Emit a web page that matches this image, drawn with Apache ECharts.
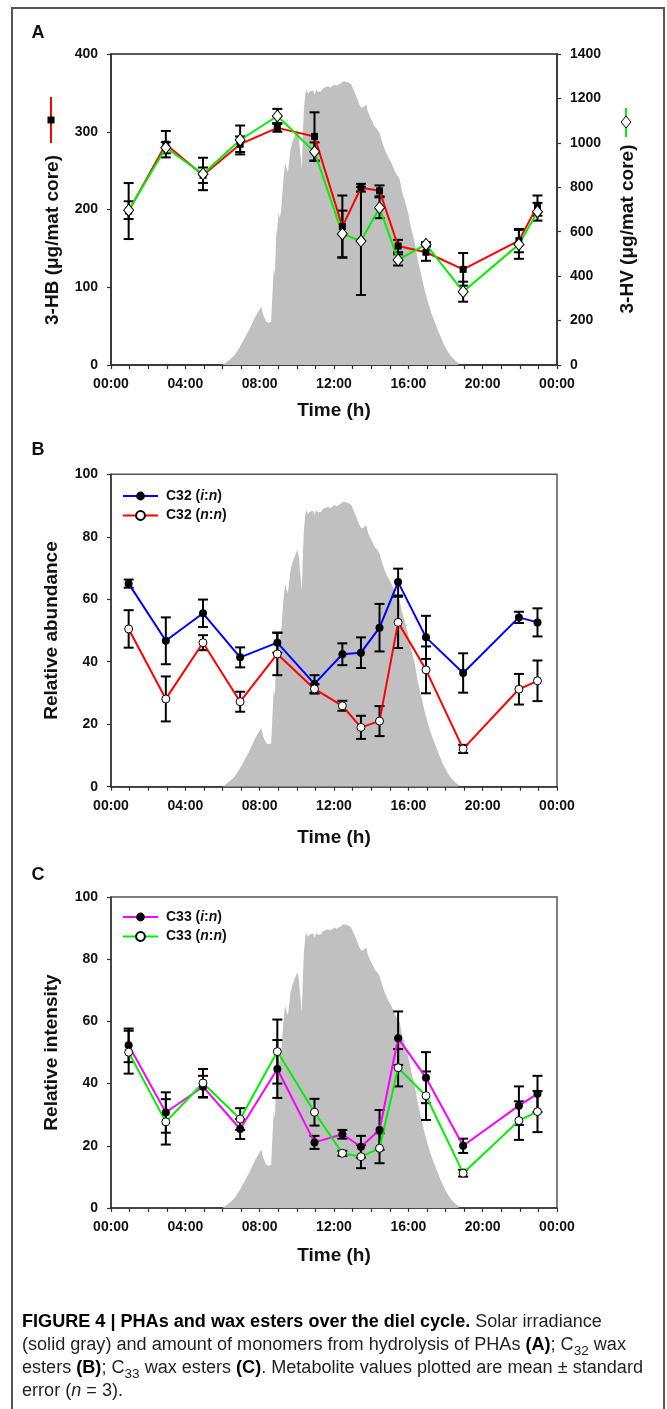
<!DOCTYPE html>
<html>
<head>
<meta charset="utf-8">
<script src="https://cdn.jsdelivr.net/npm/echarts@6/dist/echarts.min.js"></script>
<style>
  html, body { margin: 0; padding: 0; background: #fff; }
  #wrap { position: relative; width: 667px; height: 1409px; overflow: hidden; }
  #frame { position: absolute; left: 11px; top: 7px; width: 654px; height: 1440px; border: 2px solid #555; box-sizing: border-box; }
  #chart { position: absolute; left: 0; top: 0; width: 667px; height: 1409px; }
  #cap { position: absolute; left: 22px; top: 1310px; font-family: "Liberation Sans", Arial, sans-serif; font-size: 18px; line-height: 23px; color: #231f20; white-space: nowrap; }
  #cap .ln { display: block; transform-origin: 0 50%; width: max-content; }
  #cap b { color: #000; }
  #cap sub { font-size: 0.75em; vertical-align: -0.35em; line-height: 0; }
</style>
</head>
<body>
<div id="wrap">
  <div id="chart"></div>
  <div id="frame"></div>
  <div id="cap"><span class="ln"><b>FIGURE 4 | PHAs and wax esters over the diel cycle.</b> Solar irradiance</span><span class="ln">(solid gray) and amount of monomers from hydrolysis of PHAs <b>(A)</b>; C<sub>32</sub> wax</span><span class="ln">esters <b>(B)</b>; C<sub>33</sub> wax esters <b>(C)</b>. Metabolite values plotted are mean ± standard</span><span class="ln">error (<i>n</i> = 3).</span></div>
</div>
<script>
// ---------------- DATA ----------------
const xTickLabels = ['00:00', '04:00', '08:00', '12:00', '16:00', '20:00', '00:00'];
const sampleHours = [0.95, 2.95, 4.95, 6.95, 8.95, 10.95, 12.45, 13.45, 14.45, 15.45, 16.95, 18.95, 21.95, 22.95];

// Panel A: 3-HB (left axis) and 3-HV (right axis), µg/mat core
const hb      = [198, 284, 244, 284, 305, 294, 178, 228, 224, 153, 145, 123, 160, 205];
const hbErr   = [36, 17, 10, 10, 5, 31, 40, 5, 7, 8, 11, 21, 15, 13];
const hv      = [697, 978, 860, 1013, 1121, 960, 590, 558, 708, 473, 543, 330, 543, 690];
const hvErr   = [40, 25, 73, 65, 32, 42, 105, 243, 47, 25, 10, 45, 65, 40];

// Panel B: C32 wax esters, relative abundance
const c32in    = [65.0, 46.7, 55.5, 41.4, 46.1, 32.9, 42.4, 42.9, 50.9, 65.5, 47.8, 36.4, 54.2, 52.6];
const c32inErr = [1.3, 7.5, 4.4, 3.2, 3.2, 2.8, 3.5, 4.9, 7.6, 4.3, 6.9, 6.3, 1.8, 4.5];
const c32nn    = [50.5, 28.1, 46.1, 27.2, 42.5, 31.3, 25.9, 19.0, 21.0, 52.6, 37.4, 12.1, 31.2, 33.9];
const c32nnErr = [6.0, 7.2, 2.4, 3.2, 6.8, 1.5, 1.6, 3.7, 4.8, 8.2, 7.5, 1.3, 4.9, 6.5];

// Panel C: C33 wax esters, relative intensity
const c33in    = [52.3, 30.7, 39.0, 25.4, 44.7, 21.1, 23.7, 19.7, 25.1, 54.6, 41.9, 20.0, 32.9, 36.7];
const c33inErr = [5.4, 6.5, 3.5, 3.2, 9.3, 2.1, 1.4, 3.5, 6.4, 8.6, 8.2, 2.3, 6.2, 5.8];
const c33nn    = [50.1, 27.7, 40.2, 28.6, 50.3, 30.8, 17.6, 16.5, 19.2, 45.1, 36.1, 11.2, 28.1, 31.0];
const c33nnErr = [6.9, 7.3, 4.5, 3.5, 10.3, 4.3, 0.8, 3.7, 4.8, 6.0, 7.8, 1.1, 6.2, 6.6];

// Solar irradiance (relative, % of panel height)
const irrHours = [6.0, 6.11, 6.4, 6.65, 6.9, 7.18, 7.45, 7.72, 7.9, 8.08, 8.2, 8.35, 8.5, 8.62, 8.68, 8.76, 8.82, 8.89, 8.95, 9.01, 9.08, 9.16, 9.22, 9.28, 9.37, 9.45, 9.52, 9.6, 9.66, 9.78, 9.88, 10.02, 10.1, 10.15, 10.22, 10.27, 10.33, 10.38, 10.45, 10.51, 10.6, 10.7, 10.78, 10.88, 10.95, 11.05, 11.15, 11.31, 11.4, 11.5, 11.67, 11.8, 12.03, 12.15, 12.39, 12.5, 12.6, 12.75, 12.85, 12.93, 13.05, 13.2, 13.35, 13.47, 13.6, 13.74, 13.82, 13.92, 14.05, 14.18, 14.3, 14.45, 14.55, 14.72, 14.9, 15.08, 15.3, 15.53, 15.65, 15.8, 15.98, 16.15, 16.34, 16.5, 16.7, 16.88, 17.05, 17.25, 17.42, 17.6, 17.78, 17.95, 18.13, 18.3, 18.49, 18.65, 18.76, 18.85];
const irrValues = [0, 0.5, 1.8, 3.2, 5.5, 8.5, 11.5, 15, 17, 18.7, 16, 13.9, 13.6, 13.9, 22, 31, 29, 41.6, 44, 49, 47, 50, 55, 59.8, 65.1, 63, 62, 66, 69.4, 72, 73.6, 75.8, 74, 70.4, 66, 63, 75, 82, 87, 88.6, 87.2, 88, 87.5, 88.3, 87, 88.5, 87.8, 88, 89, 88.4, 89.6, 89.2, 90.2, 89.8, 90.7, 91.2, 90.6, 90.9, 91, 90.2, 88.5, 86.4, 84, 82.7, 83, 83.8, 81.5, 80, 78.5, 76.8, 76, 74.7, 72.5, 69.4, 67, 65.1, 62, 59.8, 56, 53, 49.1, 44, 39.5, 34, 28.8, 24, 20.3, 16.5, 13.9, 11, 8.5, 6.2, 4.3, 2.8, 1.6, 0.8, 0.3, 0];

// ---------------- CHART ----------------
const FONT = '"Liberation Sans", Arial, Helvetica, sans-serif';
const chart = echarts.init(document.getElementById('chart'), null, { renderer: 'canvas' });

const pairs = (xs, ys) => xs.map((x, i) => [x, ys[i]]);
const errData = (xs, ys, es) => xs.map((x, i) => [x, ys[i] - es[i], ys[i] + es[i]]);
const irrData = pairs(irrHours, irrValues);

function errRender(params, api) {
  const x = api.value(0), lo = api.value(1), hi = api.value(2);
  const a = api.coord([x, lo]), b = api.coord([x, hi]);
  const hw = 5;
  const style = { stroke: '#000', lineWidth: 2 };
  return { type: 'group', children: [
    { type: 'line', shape: { x1: a[0], y1: a[1], x2: b[0], y2: b[1] }, style },
    { type: 'line', shape: { x1: a[0] - hw, y1: a[1], x2: a[0] + hw, y2: a[1] }, style },
    { type: 'line', shape: { x1: b[0] - hw, y1: b[1], x2: b[0] + hw, y2: b[1] }, style }
  ]};
}

const gridDefs = [
  { left: 111, top: 54, width: 446, height: 311, borderColor: '#222', nameGap: 36 },
  { left: 111, top: 474.3, width: 446, height: 312.4, borderColor: '#555', nameGap: 42 },
  { left: 111, top: 897, width: 446, height: 311, borderColor: '#555', nameGap: 38 }
];
const grid = gridDefs.map(g => ({ left: g.left, top: g.top, width: g.width, height: g.height, show: true, borderColor: g.borderColor, borderWidth: 1.5, backgroundColor: 'transparent' }));

const axisLabelStyle = { fontFamily: FONT, fontWeight: 'bold', fontSize: 14, color: '#111' };
const nameStyle = { fontFamily: FONT, fontWeight: 'bold', fontSize: 19, color: '#111' };
const axisLine = { show: true, lineStyle: { color: '#333', width: 1.5 } };

const xAxis = [0, 1, 2].map(i => ({
  type: 'value', gridIndex: i, min: 0, max: 24, interval: 4,
  axisLine, splitLine: { show: false },
  axisTick: { show: true, length: 4, lineStyle: { color: '#333', width: 1.2 } },
  minorTick: { show: true, splitNumber: 4, length: 4, lineStyle: { color: '#333', width: 1.2 } },
  axisLabel: Object.assign({ margin: 12, formatter: v => xTickLabels[Math.round(v / 4)] }, axisLabelStyle),
  name: 'Time (h)', nameLocation: 'middle', nameGap: gridDefs[i].nameGap, nameTextStyle: nameStyle
}));

const yCommon = {
  type: 'value', axisLine, splitLine: { show: false },
  axisTick: { show: true, length: 4, lineStyle: { color: '#333', width: 1.2 } },
  axisLabel: Object.assign({ margin: 13, formatter: v => String(v) }, axisLabelStyle)
};
const yAxis = [
  Object.assign({}, yCommon, { gridIndex: 0, position: 'left', min: 0, max: 400, interval: 100 }),
  Object.assign({}, yCommon, { gridIndex: 0, position: 'right', min: 0, max: 1400, interval: 200 }),
  { type: 'value', gridIndex: 0, min: 0, max: 100, show: false },
  Object.assign({}, yCommon, { gridIndex: 1, position: 'left', min: 0, max: 100, interval: 20, name: 'Relative abundance', nameLocation: 'middle', nameGap: 50, nameTextStyle: nameStyle }),
  Object.assign({}, yCommon, { gridIndex: 2, position: 'left', min: 0, max: 100, interval: 20, name: 'Relative intensity', nameLocation: 'middle', nameGap: 50, nameTextStyle: nameStyle })
];

function irrSeries(xi, yi) {
  return { type: 'line', xAxisIndex: xi, yAxisIndex: yi, data: irrData, symbol: 'none', silent: true, z: 1,
    lineStyle: { width: 0, color: '#c0c0c0' }, areaStyle: { color: '#c0c0c0', opacity: 1 }, itemStyle: { color: '#c0c0c0' } };
}
function errSeries(xi, yi, ys, es) {
  return { type: 'custom', xAxisIndex: xi, yAxisIndex: yi, data: errData(sampleHours, ys, es), renderItem: errRender, z: 2, silent: true,
    encode: { x: 0, y: [1, 2] } };
}
function lineSeries(name, xi, yi, ys, color, symbol, size, filled) {
  return { name, type: 'line', xAxisIndex: xi, yAxisIndex: yi, data: pairs(sampleHours, ys), z: 3,
    symbol, symbolSize: size, showSymbol: true,
    lineStyle: { color, width: 2 },
    itemStyle: filled ? { color: '#000', borderColor: '#000', borderWidth: 0 } : { color: '#fff', borderColor: '#000', borderWidth: 1 } };
}

const GREEN = '#00f000';
const series = [
  irrSeries(0, 2), irrSeries(1, 3), irrSeries(2, 4),
  errSeries(0, 0, hb, hbErr), errSeries(0, 1, hv, hvErr),
  lineSeries('3-HB', 0, 0, hb, '#ff0000', 'rect', 7, true),
  lineSeries('3-HV', 0, 1, hv, GREEN, 'diamond', [10, 12], false),
  errSeries(1, 3, c32in, c32inErr), errSeries(1, 3, c32nn, c32nnErr),
  lineSeries('C32 (i:n)', 1, 3, c32in, '#0000ff', 'circle', 8, true),
  lineSeries('C32 (n:n)', 1, 3, c32nn, '#ff0000', 'circle', 8, false),
  errSeries(2, 4, c33in, c33inErr), errSeries(2, 4, c33nn, c33nnErr),
  lineSeries('C33 (i:n)', 2, 4, c33in, '#ff00ff', 'circle', 8, true),
  lineSeries('C33 (n:n)', 2, 4, c33nn, GREEN, 'circle', 8, false)
];

const legendRich = {
  b: { fontFamily: FONT, fontWeight: 'bold', fontSize: 14, color: '#111' },
  bi: { fontFamily: FONT, fontWeight: 'bold', fontStyle: 'italic', fontSize: 14, color: '#111' }
};
const legendFmt = name => {
  const m = name.match(/^(C\d+) \((\w):(\w)\)$/);
  return '{b|' + m[1] + ' (}{bi|' + m[2] + '}{b|:}{bi|' + m[3] + '}{b|)}';
};
function legendAt(top, names) {
  return { data: names, orient: 'vertical', left: 122, top, padding: 0, itemWidth: 35, itemHeight: 11, itemGap: 5.5,
    formatter: legendFmt, textStyle: { rich: legendRich, padding: [0, 0, 0, 3] }, selectedMode: false };
}

const txt = (x, y, text, size, rot) => ({ type: 'text', x, y, rotation: rot || 0, silent: true,
  style: { text, fontFamily: FONT, fontWeight: 'bold', fontSize: size, fill: '#111', align: 'center', verticalAlign: 'middle' } });

const graphic = [
  txt(38, 33, 'A', 18), txt(38, 450, 'B', 18), txt(38, 875, 'C', 18),
  txt(53, 240, '3-HB (μg/mat core)', 19, Math.PI / 2),
  txt(628, 229, '3-HV (μg/mat core)', 19, Math.PI / 2),
  { type: 'line', shape: { x1: 51, y1: 97, x2: 51, y2: 143 }, style: { stroke: '#ff0000', lineWidth: 2 }, silent: true },
  { type: 'rect', shape: { x: 47.5, y: 116.5, width: 7, height: 7 }, style: { fill: '#000' }, silent: true },
  { type: 'line', shape: { x1: 626, y1: 108, x2: 626, y2: 137 }, style: { stroke: GREEN, lineWidth: 2 }, silent: true },
  { type: 'polygon', shape: { points: [[626, 116], [631, 122], [626, 128], [621, 122]] }, style: { fill: '#fff', stroke: '#000', lineWidth: 1 }, silent: true }
];

chart.setOption({
  animation: false,
  textStyle: { fontFamily: FONT },
  grid, xAxis, yAxis, series,
  legend: [legendAt(489, ['C32 (i:n)', 'C32 (n:n)']), legendAt(910, ['C33 (i:n)', 'C33 (n:n)'])],
  graphic
});

// caption: condensed face emulated by horizontal scaling to the reference line length
(function () {
  const lines = document.querySelectorAll('#cap .ln');
  const w = lines[2].getBoundingClientRect().width;
  const s = 621 / w;
  lines.forEach(l => { l.style.transform = 'scaleX(' + s + ')'; });
})();
</script>
</body>
</html>
